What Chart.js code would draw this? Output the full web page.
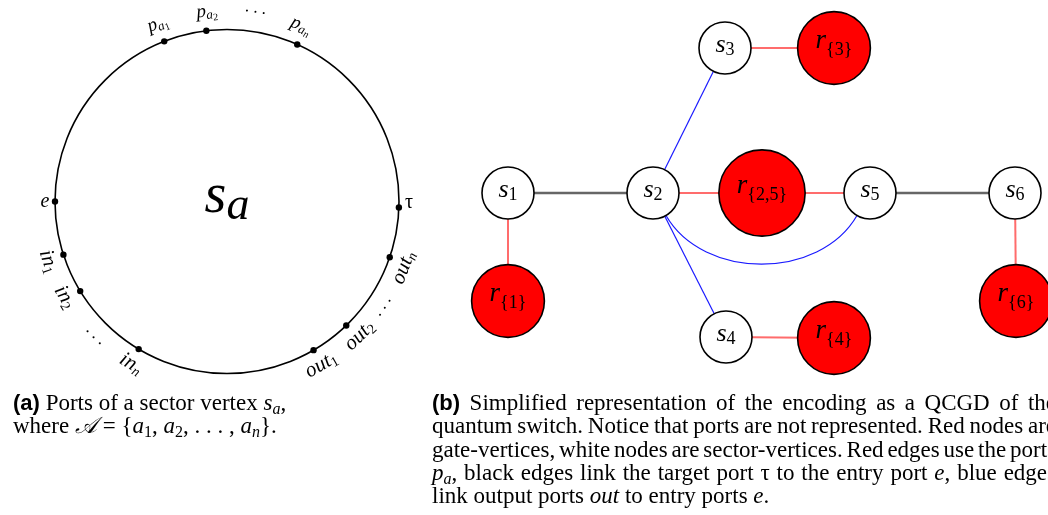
<!DOCTYPE html>
<html><head><meta charset="utf-8">
<script src="https://cdn.jsdelivr.net/npm/chart.js@4.4.1/dist/chart.umd.min.js"></script>
<style>
html,body{margin:0;padding:0;background:#fff;width:1048px;height:515px;overflow:hidden;}
#c{position:absolute;left:0;top:0;}
.cap{position:absolute;font-family:"Liberation Serif","Times New Roman",serif;font-size:23px;color:#000;white-space:nowrap;line-height:23.3px;}
.cap .ln{display:block;height:23.3px;}
.cap .ln span.jl{display:inline-block;white-space:nowrap;}
.b{font-family:"Liberation Sans",Arial,sans-serif;font-weight:bold;font-size:22px;}
.cap sub{font-size:16px;vertical-align:-4px;line-height:0;}
.cap i{font-style:italic;}
</style></head>
<body>
<canvas id="c" width="1048" height="515"></canvas>
<div class="cap" id="capA" style="left:13px;top:391px;">
<span class="ln"><span><span class="b">(a)</span> Ports of a sector vertex <i>s<sub>a</sub></i>,</span></span>
<span class="ln"><span>where <i>𝒜</i> = {<i>a</i><sub>1</sub>, <i>a</i><sub>2</sub>, . . . , <i>a<sub>n</sub></i>}.</span></span>
</div>
<div class="cap" id="capB" style="left:432px;top:391px;">
<span class="ln"><span class="jl"><span class="b">(b)</span> Simplified representation of the encoding as a QCGD of the</span></span>
<span class="ln"><span class="jl">quantum switch. Notice that ports are not represented. Red nodes are</span></span>
<span class="ln"><span class="jl">gate-vertices, white nodes are sector-vertices. Red edges use the ports</span></span>
<span class="ln"><span class="jl"><i>p<sub>a</sub></i>, black edges link the target port τ to the entry port <i>e</i>, blue edges</span></span>
<span class="ln"><span>link output ports <i>out</i> to entry ports <i>e</i>.</span></span>
</div>
<script>
// ---------------- data ----------------
// (a) sector vertex with its ports
const hubX = [227];
const hubY = [201.5];
const hubLabel = 's|a';
const portNames       = ['p|a|1','p|a|2','p|a|n','e','τ','in|1','in|2','in|n','out|1','out|2','out|n'];
const portAngles      = [111.4, 96.9, 65.9, 180, -2, 198, 211.4, 239.1, 300.2, 313.9, 341.1];
const portLabelAngles = [111.3, 96, 67.2, 180, -0.5, 198.6, 210.5, 239.4, 300, 314.7, 339.5];
const ellipsisAngles  = [81.5, 225.5, 326];

// (b) QCGD of the quantum switch
const nodeIds    = ['s1','s2','s3','s4','s5','s6','r1','r3','r25','r4','r6'];
const nodeLabels = ['s|1','s|2','s|3','s|4','s|5','s|6','r|{1}','r|{3}','r|{2,5}','r|{4}','r|{6}'];
const nodeKinds  = ['sector','sector','sector','sector','sector','sector','gate','gate','gate','gate','gate'];
const nodeX      = [508, 653, 725, 726, 870, 1015, 508, 834, 762, 834, 1016];
const nodeY      = [193, 193, 48, 337, 193, 193, 301, 48, 193, 338, 301];

const edgeFrom = ['s1','s5','s2','r25','s3','s4','s1','s6','s2','s2','s2'];
const edgeTo   = ['s2','s6','r25','s5','r3','r4','r1','r6','s3','s4','s5'];
const edgeKind = ['target','target','port','port','port','port','port','port','out','out','out'];

// ---------------- styles ----------------
const HUB_R = 172;
const SERIF = '"Liberation Serif","Times New Roman",serif';
const edgeStyle = {
  target: {color:'#666666', width:2.4},
  port:   {color:'#ff6c6c', width:2},
  out:    {color:'#1a1aff', width:1.2}
};
const curvedEdges = {'s2>s5': 60}; // bend right (deg)
const nodeFont = {sector:{sizes:[26,18], base:4, drops:[0,2.5]}, gate:{sizes:[27,18], base:0, drops:[0,7]}};
const portFont = {sizes:[19,13,10], base:4, drops:[0,2.5,4.5]};

// math label renderer
function runs(t){
  const out=[]; let cur=null;
  for(const ch of t){ const it=/[A-Za-z]/.test(ch); if(!cur||cur.it!==it){cur={s:'',it};out.push(cur);} cur.s+=ch; }
  return out;
}
function layoutMath(ctx,label,f){
  const lv=label.split('|'); const items=[]; let w=0;
  lv.forEach((t,i)=>{ runs(t).forEach(r=>{ const font=(r.it?'italic ':'')+f.sizes[i]+'px '+SERIF; ctx.font=font; const mw=ctx.measureText(r.s).width; items.push({s:r.s,font,x:w,dy:f.drops[i]}); w+=mw; }); });
  return {items,w};
}
function drawMath(ctx,label,f,cx,cy,rot){
  const L=layoutMath(ctx,label,f);
  ctx.save(); ctx.translate(cx,cy); ctx.rotate((rot||0)*Math.PI/180);
  ctx.fillStyle='#000'; ctx.textBaseline='alphabetic'; ctx.textAlign='left';
  L.items.forEach(it=>{ ctx.font=it.font; ctx.fillText(it.s,-L.w/2+it.x,f.base+it.dy); });
  ctx.restore();
}
const mctx=document.createElement('canvas').getContext('2d');
function nodeRadius(i){
  if(nodeKinds[i]==='sector') return 26;
  const w=layoutMath(mctx,nodeLabels[i],nodeFont.gate).w;
  return Math.max(36,w/2+18);
}
const nodeR = nodeIds.map((_,i)=>nodeRadius(i));
const rad = d=>d*Math.PI/180;
const portX = portAngles.map(a=>hubX[0]+HUB_R*Math.cos(rad(a)));
const portY = portAngles.map(a=>hubY[0]-HUB_R*Math.sin(rad(a)));

// ---------------- datasets ----------------
const datasets=[];
datasets.push({type:'scatter',data:portX.map((x,i)=>({x,y:portY[i]})),pointRadius:3.2,pointBackgroundColor:'#000',pointBorderWidth:0,order:0,clip:false});
datasets.push({type:'scatter',data:nodeIds.map((_,i)=>({x:nodeX[i],y:nodeY[i]})),
  pointRadius:nodeR,pointBackgroundColor:nodeKinds.map(k=>k==='gate'?'#ff0000':'#ffffff'),
  pointBorderColor:'#000',pointBorderWidth:1.6,order:1,clip:false});
datasets.push({type:'scatter',data:[{x:hubX[0],y:hubY[0]}],pointRadius:HUB_R,pointBackgroundColor:'rgba(0,0,0,0)',pointBorderColor:'#000',pointBorderWidth:1.6,order:2,clip:false});
edgeFrom.forEach((a,i)=>{
  const b=edgeTo[i]; if(curvedEdges[a+'>'+b]) return;
  const ia=nodeIds.indexOf(a), ib=nodeIds.indexOf(b), st=edgeStyle[edgeKind[i]];
  datasets.push({type:'line',data:[{x:nodeX[ia],y:nodeY[ia]},{x:nodeX[ib],y:nodeY[ib]}],
    borderColor:st.color,borderWidth:st.width,pointRadius:0,fill:false,showLine:true,order:5,clip:false});
});

const curvePlugin={id:'curve',beforeDatasetsDraw(chart){
  const {ctx,scales:{x,y}}=chart;
  edgeFrom.forEach((a,i)=>{
    const b=edgeTo[i], bend=curvedEdges[a+'>'+b]; if(!bend) return;
    const ia=nodeIds.indexOf(a), ib=nodeIds.indexOf(b), st=edgeStyle[edgeKind[i]];
    const ax=x.getPixelForValue(nodeX[ia]), ay=y.getPixelForValue(nodeY[ia]);
    const bx=x.getPixelForValue(nodeX[ib]), by=y.getPixelForValue(nodeY[ib]);
    const ang=Math.atan2(by-ay,bx-ax), oa=ang+rad(bend), ib2=ang+Math.PI-rad(bend);
    const sx=ax+nodeR[ia]*Math.cos(oa), sy=ay+nodeR[ia]*Math.sin(oa);
    const ex=bx+nodeR[ib]*Math.cos(ib2), ey=by+nodeR[ib]*Math.sin(ib2);
    const d=0.3915*Math.hypot(ex-sx,ey-sy);
    ctx.save(); ctx.strokeStyle=st.color; ctx.lineWidth=st.width; ctx.beginPath(); ctx.moveTo(sx,sy);
    ctx.bezierCurveTo(sx+d*Math.cos(oa),sy+d*Math.sin(oa),ex+d*Math.cos(ib2),ey+d*Math.sin(ib2),ex,ey);
    ctx.stroke(); ctx.restore();
  });
}};
const labelPlugin={id:'labels',afterDatasetsDraw(chart){
  const {ctx,scales:{x,y}}=chart;
  const hx=x.getPixelForValue(hubX[0]), hy=y.getPixelForValue(hubY[0]);
  drawMath(ctx,hubLabel,{sizes:[56,46],base:10,drops:[0,7]},hx,hy,0);
  portNames.forEach((n,i)=>{
    const a=portLabelAngles[i]; const sloped=!(n==='e'||n==='τ');
    const rr=HUB_R+(sloped?(n[0]==='p'?18:17):10);
    const cx=hx+rr*Math.cos(rad(a)), cy=hy-rr*Math.sin(rad(a));
    let rot=90-a; while(rot>90)rot-=180; while(rot<=-90)rot+=180;
    let f=portFont;
    if(n[0]==='i'||n[0]==='o') f={sizes:[21,14],base:5,drops:[0,3]};
    if(!sloped) f={sizes:[20],base:5,drops:[0]};
    drawMath(ctx,n,f,cx,cy,sloped?rot:0);
  });
  ellipsisAngles.forEach(a=>{
    const rr=HUB_R+19, cx=hx+rr*Math.cos(rad(a)), cy=hy-rr*Math.sin(rad(a));
    let rot=90-a; while(rot>90)rot-=180; while(rot<=-90)rot+=180;
    drawMath(ctx,'. . .',{sizes:[17],base:0,drops:[0]},cx,cy,rot);
  });
  nodeIds.forEach((id,i)=>{
    drawMath(ctx,nodeLabels[i],nodeFont[nodeKinds[i]],x.getPixelForValue(nodeX[i]),y.getPixelForValue(nodeY[i]),0);
  });
}};

new Chart(document.getElementById('c'),{
  type:'scatter',
  data:{datasets},
  options:{responsive:false,animation:false,events:[],layout:{padding:0,autoPadding:false},
    plugins:{legend:{display:false},tooltip:{enabled:false}},
    scales:{x:{type:'linear',min:0,max:1048,display:false},y:{type:'linear',min:0,max:515,reverse:true,display:false}}},
  plugins:[curvePlugin,labelPlugin]
});

const JW=624;
document.querySelectorAll('.jl').forEach(el=>{
  const w=el.getBoundingClientRect().width; const n=(el.textContent.match(/ /g)||[]).length;
  if(n>0) el.style.wordSpacing=((JW-w)/n)+'px';
});
</script>
</body></html>
